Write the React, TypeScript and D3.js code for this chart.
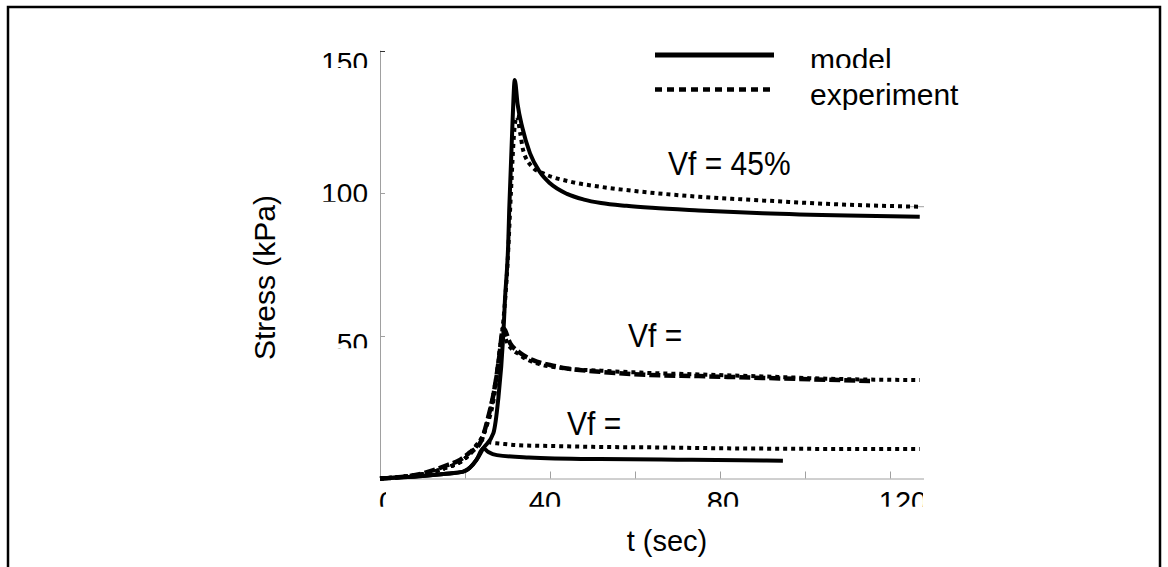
import React, { useEffect, useRef } from "react";
import * as d3 from "d3";

// Vf = 45% (top pair)
const t45Model = [0, 5, 10, 15, 19.6, 22.7, 24.3, 26.7, 27.8, 29, 29.4, 30.2, 30.4, 31.2, 31.7, 32.4, 33.5, 35.3, 37.6, 40, 44, 48, 52, 58, 64, 75, 90, 110, 127];
const s45Model = [0, 0.4, 0.9, 1.6, 2.4, 6.5, 10.6, 16, 27.5, 50, 62.6, 83.6, 94, 125.7, 139.7, 131, 123, 114, 107.5, 103.5, 99.8, 97.8, 96.6, 95.6, 94.9, 94, 93, 92.2, 91.8];
const t45Exp = [0, 5, 10, 15, 20, 23, 25, 27, 28.2, 29, 30, 30.8, 31.6, 32.2, 33, 33.7, 36, 38.4, 45, 51.8, 60, 75, 90, 105, 127];
const s45Exp = [0, 0.6, 1.5, 3.5, 7, 12, 18, 30, 45, 55, 75, 100, 122, 127, 121, 115, 109, 107, 104, 102.3, 100.8, 98.8, 97.5, 96.3, 95.3];

// middle pair
const tMidModel = [0, 5, 10, 13.3, 16, 18.8, 21, 23.5, 25.5, 27, 28, 29, 30.6, 33, 36, 40, 44, 51.8, 63.5, 75, 94, 115.3];
const sMidModel = [0, 0.5, 1.8, 3.3, 4.8, 6.5, 9, 12.3, 21.7, 32, 42, 52.7, 47.5, 44, 41.5, 39.8, 38.6, 37.4, 36.3, 35.9, 35.1, 34.2];
const tMidExp = [0, 5, 10, 15, 20, 23, 24.5, 25.9, 27.5, 28.6, 29.3, 29.8, 32.9, 36, 44, 52, 63.5, 75, 90, 105, 127];
const sMidExp = [0, 0.6, 1.5, 3.5, 7, 12, 16, 24, 36.9, 48.6, 50, 48, 43.3, 40.8, 38.5, 37.8, 37, 36.5, 35.8, 35, 34.5];

// lowest pair
const tLowModel = [0, 5, 10, 15, 19.6, 22.7, 24.3, 25.5, 27.5, 35, 51.8, 70, 85, 94.8];
const sLowModel = [0, 0.4, 0.9, 1.6, 2.4, 6.5, 10.6, 9.3, 8.2, 7.4, 6.8, 6.6, 6.4, 6.2];
const tLowExp = [0, 5, 10, 15, 20, 23.5, 24.5, 26, 28, 32.2, 40, 50, 65, 80, 100, 127];
const sLowExp = [0, 0.6, 1.5, 3.5, 7, 12.9, 13.8, 12.6, 12.3, 11.7, 11.4, 11.1, 10.9, 10.6, 10.4, 10.3];

const yTicks = [50, 100, 150];
const xTicks = [0, 20, 40, 60, 80, 100, 120];
const xLabels = [0, 40, 80, 120];
const legendNames = ["model", "experiment"];
const vfLabels = ["Vf = 45%", "Vf =", "Vf ="];

const FONT = "'Liberation Sans', Arial, Helvetica, sans-serif";

const App = () => {
    const svgRef = useRef(null);

    useEffect(() => {
        const svg = d3.select(svgRef.current);
        svg.selectAll("*").remove();

        const x = d3.scaleLinear().domain([0, 128]).range([380, 924]);
        const y = d3.scaleLinear().domain([0, 150]).range([478.5, 50.7]);

        const defs = svg.append("defs");

        // outer frame
        svg.append("rect")
            .attr("x", 8).attr("y", 7)
            .attr("width", 1152).attr("height", 620)
            .attr("fill", "none").attr("stroke", "#000").attr("stroke-width", 2.5);

        // axes (thin gray)
        const axisColor = "#a0a0a0";
        svg.append("line")
            .attr("x1", x(0) + 0.5).attr("x2", x(0) + 0.5)
            .attr("y1", y(150)).attr("y2", y(0))
            .attr("stroke", axisColor).attr("stroke-width", 1);
        svg.append("line")
            .attr("x1", x(0)).attr("x2", x(128))
            .attr("y1", y(0) + 0.5).attr("y2", y(0) + 0.5)
            .attr("stroke", axisColor).attr("stroke-width", 1);

        yTicks.forEach((v) => {
            svg.append("line")
                .attr("x1", x(0)).attr("x2", x(0) + 5)
                .attr("y1", Math.round(y(v)) + 0.5).attr("y2", Math.round(y(v)) + 0.5)
                .attr("stroke", v === 150 ? "#333" : axisColor);
        });
        xTicks.slice(1).forEach((v) => {
            svg.append("line")
                .attr("x1", Math.round(x(v)) + 0.5).attr("x2", Math.round(x(v)) + 0.5)
                .attr("y1", y(0)).attr("y2", y(0) - 7)
                .attr("stroke", axisColor);
        });
        // small stub at the right end of the 45% curve
        svg.append("line")
            .attr("x1", x(124)).attr("x2", x(128))
            .attr("y1", y(95.3)).attr("y2", y(95.3))
            .attr("stroke", axisColor);

        // y tick labels: only the upper part of the glyphs shows
        const yLabelTop = { 150: 51.7, 100: 183.3, 50: 333.3 };
        const yLabelCut = { 150: 68, 100: 201.7, 50: 348.3 };
        yTicks.forEach((v, i) => {
            const id = `yclip${i}`;
            defs.append("clipPath").attr("id", id)
                .append("rect").attr("x", 300).attr("y", 0)
                .attr("width", 80).attr("height", yLabelCut[v]);
            svg.append("text")
                .attr("x", 368).attr("y", yLabelTop[v] + 20)
                .attr("text-anchor", "end")
                .attr("clip-path", `url(#${id})`)
                .style("font-family", FONT).style("font-size", "28px")
                .text(String(v));
        });

        // x tick labels, clipped at the bottom (and the first/last at the sides)
        const xLabelDx = { 0: 7, 40: -5, 80: 3, 120: 13 };
        defs.append("clipPath").attr("id", "xclip")
            .append("rect").attr("x", 300).attr("y", 480)
            .attr("width", 923 - 300).attr("height", 506.8 - 480);
        defs.append("clipPath").attr("id", "xclip0")
            .append("rect").attr("x", 300).attr("y", 480)
            .attr("width", 386 - 300).attr("height", 506.8 - 480);
        xLabels.forEach((v) => {
            svg.append("text")
                .attr("x", x(v) + xLabelDx[v]).attr("y", 512)
                .attr("text-anchor", "middle")
                .attr("clip-path", v === 0 ? "url(#xclip0)" : "url(#xclip)")
                .style("font-family", FONT).style("font-size", "29px")
                .text(String(v));
        });

        // axis titles
        svg.append("text")
            .attr("x", 667).attr("y", 551)
            .attr("text-anchor", "middle")
            .style("font-family", FONT).style("font-size", "29px")
            .text("t (sec)");
        svg.append("text")
            .attr("transform", "translate(275,277.5) rotate(-90)")
            .attr("text-anchor", "middle")
            .style("font-family", FONT).style("font-size", "30px")
            .text("Stress (kPa)");

        // series
        const line = d3.line()
            .x((d) => x(d[0]))
            .y((d) => y(d[1]))
            .curve(d3.curveMonotoneX);
        const zip = (ts, ss) => ts.map((t, i) => [t, ss[i]]);

        const dotted = { width: 4, dash: "4,4" };
        const series = [
            { data: zip(t45Exp, s45Exp), ...dotted },
            { data: zip(tMidExp, sMidExp), ...dotted },
            { data: zip(tLowExp, sLowExp), ...dotted },
            { data: zip(tMidModel, sMidModel), width: 4.5, dash: "11,4" },
            { data: zip(tLowModel, sLowModel), width: 4, dash: null },
            { data: zip(t45Model, s45Model), width: 4, dash: null },
        ];
        series.forEach((s) => {
            svg.append("path")
                .attr("d", line(s.data))
                .attr("fill", "none")
                .attr("stroke", "#000")
                .attr("stroke-width", s.width)
                .attr("stroke-dasharray", s.dash)
                .attr("stroke-linejoin", "round");
        });

        // Vf labels
        const vfPos = [[668, 175], [628, 347], [567, 435]];
        vfLabels.forEach((label, i) => {
            svg.append("text")
                .attr("transform", `translate(${vfPos[i][0]},${vfPos[i][1]}) scale(1,1.12)`)
                .style("font-family", FONT).style("font-size", "30px")
                .text(label);
        });

        // legend
        svg.append("line")
            .attr("x1", 655).attr("x2", 774).attr("y1", 55).attr("y2", 55)
            .attr("stroke", "#000").attr("stroke-width", 5);
        svg.append("line")
            .attr("x1", 655).attr("x2", 774).attr("y1", 89.5).attr("y2", 89.5)
            .attr("stroke", "#000").attr("stroke-width", 4.5)
            .attr("stroke-dasharray", "7,5");
        defs.append("clipPath").attr("id", "legclip0")
            .append("rect").attr("x", 800).attr("y", 30).attr("width", 200).attr("height", 68 - 30);
        defs.append("clipPath").attr("id", "legclip1")
            .append("rect").attr("x", 800).attr("y", 75).attr("width", 200).attr("height", 110 - 75);
        const legBase = [70, 105];
        legendNames.forEach((name, i) => {
            svg.append("text")
                .attr("x", 810).attr("y", legBase[i])
                .attr("clip-path", `url(#legclip${i})`)
                .style("font-family", FONT).style("font-size", "30px")
                .text(name);
        });
    }, []);

    return (
        <svg
            ref={svgRef}
            width={1168}
            height={567}
            style={{ position: "absolute", left: 0, top: 0, display: "block", background: "#fff" }}
        />
    );
};

export default App;
